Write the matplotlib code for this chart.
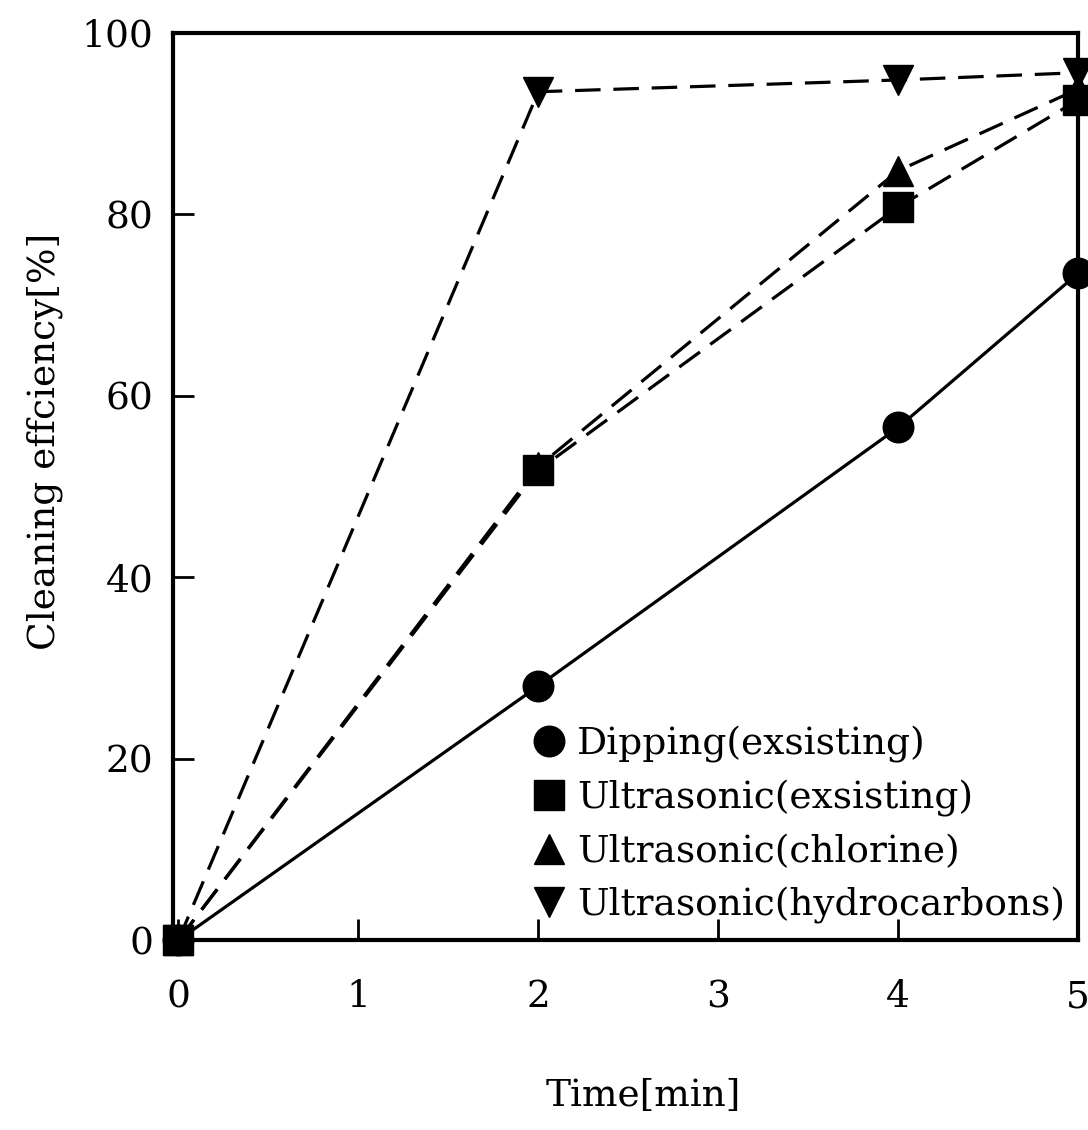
import matplotlib.pyplot as plt
from matplotlib.lines import Line2D

plt.rcParams['font.family'] = ['DejaVu Serif']

# data
time = [0, 2, 4, 5]
dipping = [0, 28.0, 56.5, 73.5]
ultra_existing = [0, 51.8, 80.8, 92.6]
ultra_chlorine = [0, 52.2, 84.8, 93.8]
ultra_hydro = [0, 93.5, 94.8, 95.6]

labels = ["Dipping(exsisting)", "Ultrasonic(exsisting)",
          "Ultrasonic(chlorine)", "Ultrasonic(hydrocarbons)"]
markers = ['o', 's', '^', 'v']

fig = plt.figure(figsize=(10.88, 11.3), dpi=100)
ax = fig.add_axes([0.159, 0.168, 0.832, 0.803])

series = [dipping, ultra_existing, ultra_chlorine, ultra_hydro]
styles = ['-', '--', '--', '--']
for vals, mk, ls in zip(series, markers, styles):
    line, = ax.plot(time, vals, color='black', linestyle=ls, linewidth=2.3,
                    marker=mk, markersize=22, clip_on=False)
    if ls == '--':
        line.set_dashes((8, 4))

ax.set_xlim(-0.03, 5.0)
ax.set_ylim(0, 100)
ax.set_xticks([0, 1, 2, 3, 4, 5])
ax.set_yticks([0, 20, 40, 60, 80, 100])
ax.tick_params(direction='in', length=15, width=2, labelsize=27)
ax.tick_params(axis='x', pad=28)
ax.tick_params(axis='y', pad=14)
for s in ax.spines.values():
    s.set_linewidth(3)

ax.set_ylabel("Cleaning effciency[%]", fontsize=27)
ax.yaxis.set_label_coords(-0.122, 0.55)
ax.set_xlabel("Time[min]", fontsize=27)
ax.xaxis.set_label_coords(0.52, -0.152)

handles = [Line2D([], [], color='black', linestyle='none', marker=m, markersize=22)
           for m in markers]
ax.legend(handles, labels, loc='upper left', bbox_to_anchor=(0.37, 0.265),
          frameon=False, fontsize=27, handlelength=0.8, handletextpad=0.35,
          labelspacing=0.45, borderpad=0.2)

plt.savefig('out.png', dpi=100)
